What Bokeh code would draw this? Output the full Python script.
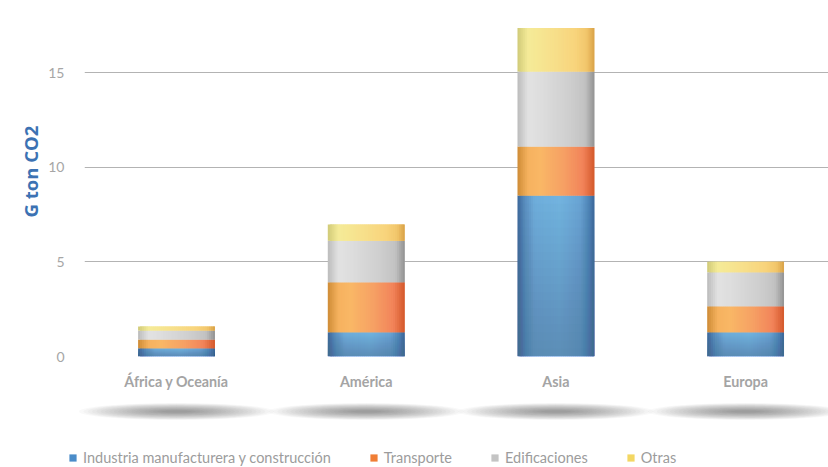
import numpy as np
from bokeh.plotting import figure
from bokeh.models import Range1d, FixedTicker, ColumnDataSource, Legend, LegendItem, Title
from bokeh.layouts import column
from bokeh.embed import file_html
from bokeh.resources import INLINE

# ---------------- data ----------------
categories = ["África y Oceanía", "América", "Asia", "Europa"]
series_names = ["Industria manufacturera y construcción", "Transporte", "Edificaciones", "Otras"]
industria = [0.44, 1.28, 8.50, 1.28]
transporte = [0.46, 2.64, 2.59, 1.37]
edificaciones = [0.48, 2.20, 3.96, 1.80]
otras = [0.21, 0.85, 2.31, 0.56]
y_ticks = [0, 5, 10, 15]
y_title = "G ton CO2"

series_values = [industria, transporte, edificaciones, otras]

# ---------------- styles ----------------
gradients = [
    [(0.0, "#3b679a"), (0.10, "#5b8fc0"), (0.22, "#6eadda"), (0.55, "#72b3df"), (0.82, "#68a3d2"), (0.93, "#4e84b7"), (1.0, "#3a6698")],
    [(0.0, "#cf8c36"), (0.14, "#f6b25f"), (0.30, "#f9b766"), (0.60, "#f6a064"), (0.85, "#f2845a"), (1.0, "#d4582b")],
    [(0.0, "#bcbcbc"), (0.14, "#e2e2e2"), (0.35, "#dcdcdc"), (0.70, "#cdcdcd"), (0.88, "#c2c2c2"), (1.0, "#929292")],
    [(0.0, "#d0ca78"), (0.14, "#f5eb98"), (0.45, "#f7e08c"), (0.75, "#f8d47c"), (0.90, "#f2c66c"), (1.0, "#d9a247")],
]
legend_colors = ["#4a8cc9", "#f07e35", "#c4c4c4", "#f3d763"]
blue_shade = "#4f719f"

def hex2rgb(h):
    return np.array([int(h[i:i + 2], 16) for i in (1, 3, 5)], dtype=float)

def grad_color(stops, t):
    for (p0, c0), (p1, c1) in zip(stops[:-1], stops[1:]):
        if p0 <= t <= p1:
            f = (t - p0) / (p1 - p0) if p1 > p0 else 0.0
            c = hex2rgb(c0) * (1 - f) + hex2rgb(c1) * f
            return "#%02x%02x%02x" % tuple(int(round(v)) for v in c)
    return stops[-1][1]

W = 828
H1 = 398
H2 = 467 - H1
frame_left = 84
ppu_x = 189.7
first_center_px = 176
x_start = -(first_center_px - frame_left) / ppu_x
x_end = x_start + (W - frame_left) / ppu_x
ppu_y = 18.93
frame_top = 8
frame_bottom = 356
y_end = (frame_bottom - frame_top) / ppu_y

bar_w = 0.405
K = 40
M = 20

# ---------------- main figure ----------------
p1 = figure(width=W, height=H1, output_backend="svg", toolbar_location=None,
            x_range=Range1d(x_start, x_end), y_range=Range1d(0, y_end),
            min_border_left=frame_left, min_border_right=0,
            min_border_top=frame_top, min_border_bottom=H1 - frame_bottom)
p1.frame_align = False
p1.outline_line_color = None
p1.background_fill_color = "white"
p1.border_fill_color = "white"

xs = np.arange(len(categories))
base = np.zeros(len(categories))
for s, vals in enumerate(series_values):
    vals = np.array(vals, dtype=float)
    left, right, bottom, top, color = [], [], [], [], []
    for i, xc in enumerate(xs):
        edge = xc + bar_w / 2
        for k in range(K):
            l = xc - bar_w / 2 + k * bar_w / K
            left.append(l)
            right.append(min(l + 2.2 * bar_w / K, edge))
            bottom.append(base[i])
            top.append(base[i] + vals[i])
            color.append(grad_color(gradients[s], (k + 0.5) / K))
    src = ColumnDataSource(dict(left=left, right=right, bottom=bottom, top=top, color=color))
    p1.quad(left="left", right="right", bottom="bottom", top="top", source=src,
            fill_color="color", line_color=None)
    if s == 0:
        # vertical shading of the first series: nested layers, darker towards the bottom
        sl, sr, sb, st = [], [], [], []
        for i, xc in enumerate(xs):
            for m in range(1, M):
                sl.append(xc - bar_w / 2)
                sr.append(xc + bar_w / 2)
                sb.append(base[i])
                st.append(base[i] + vals[i] * m / M)
        ssrc = ColumnDataSource(dict(left=sl, right=sr, bottom=sb, top=st))
        p1.quad(left="left", right="right", bottom="bottom", top="top", source=ssrc,
                fill_color=blue_shade, fill_alpha=0.028, line_color=None)
    base = base + vals

# axes
p1.xaxis.ticker = FixedTicker(ticks=list(xs))
p1.xaxis.major_label_overrides = {int(i): c for i, c in zip(xs, categories)}
p1.xaxis.axis_line_color = None
p1.xaxis.major_tick_line_color = None
p1.xaxis.minor_tick_line_color = None
p1.xaxis.major_tick_out = 0
p1.xaxis.major_label_standoff = 16
p1.xaxis.major_label_text_font = "Lato"
p1.xaxis.major_label_text_font_style = "bold"
p1.xaxis.major_label_text_font_size = "14.3px"
p1.xaxis.major_label_text_color = "#a4a4a4"

p1.yaxis.ticker = FixedTicker(ticks=y_ticks)
p1.yaxis.axis_line_color = None
p1.yaxis.major_tick_line_color = None
p1.yaxis.minor_tick_line_color = None
p1.yaxis.major_tick_out = 0
p1.yaxis.major_label_standoff = 20
p1.yaxis.major_label_text_font = "Lato"
p1.yaxis.major_label_text_font_size = "14px"
p1.yaxis.major_label_text_color = "#a6a6a6"

p1.add_layout(Title(text=y_title, align="left", offset=139, standoff=6,
                    text_font="Open Sans", text_font_style="bold",
                    text_font_size="18.5px", text_color="#3c72b3"), "left")

p1.xgrid.grid_line_color = None
p1.ygrid.grid_line_color = "#b3b3b3"
p1.ygrid.grid_line_width = 1.2

# ---------------- shadows + legend ----------------
shadow_y_px = 411 - H1
p2 = figure(width=W, height=H2, output_backend="svg", toolbar_location=None,
            x_range=Range1d(x_start - frame_left / ppu_x, x_end),
            y_range=Range1d(-(H2 - shadow_y_px), shadow_y_px),
            x_axis_location=None, y_axis_location=None,
            min_border_left=0, min_border_right=0, min_border_top=0, min_border_bottom=0)
p2.frame_align = False
p2.outline_line_color = None
p2.grid.grid_line_color = None
p2.background_fill_color = "white"
p2.border_fill_color = "white"

n_layers = 20
widths = np.linspace(195, 30, n_layers)
heights = np.linspace(17, 2, n_layers)
for w, h in zip(widths, heights):
    p2.ellipse(x=list(xs), y=[0] * len(xs), width=w, height=h,
               width_units="screen", height_units="screen",
               fill_color="#383838", fill_alpha=0.031, line_color=None)

items = []
for s, name in enumerate(series_names):
    r = p2.quad(left=[0], right=[0], bottom=[0], top=[0],
                fill_color=legend_colors[s], line_color=None, visible=False)
    items.append(LegendItem(label=name, renderers=[r]))

legend = Legend(items=items, orientation="horizontal", location=(68, 1),
                glyph_width=9, glyph_height=9, label_standoff=6, spacing=38,
                label_text_font="Lato", label_text_font_size="14.5px",
                label_text_color="#9c9c9c", label_height=16,
                background_fill_alpha=0, border_line_alpha=0,
                padding=0, margin=0, click_policy="none")
p2.add_layout(legend, "center")

layout = column(p1, p2, spacing=0)
open("out.html", "w").write(file_html(layout, INLINE))
